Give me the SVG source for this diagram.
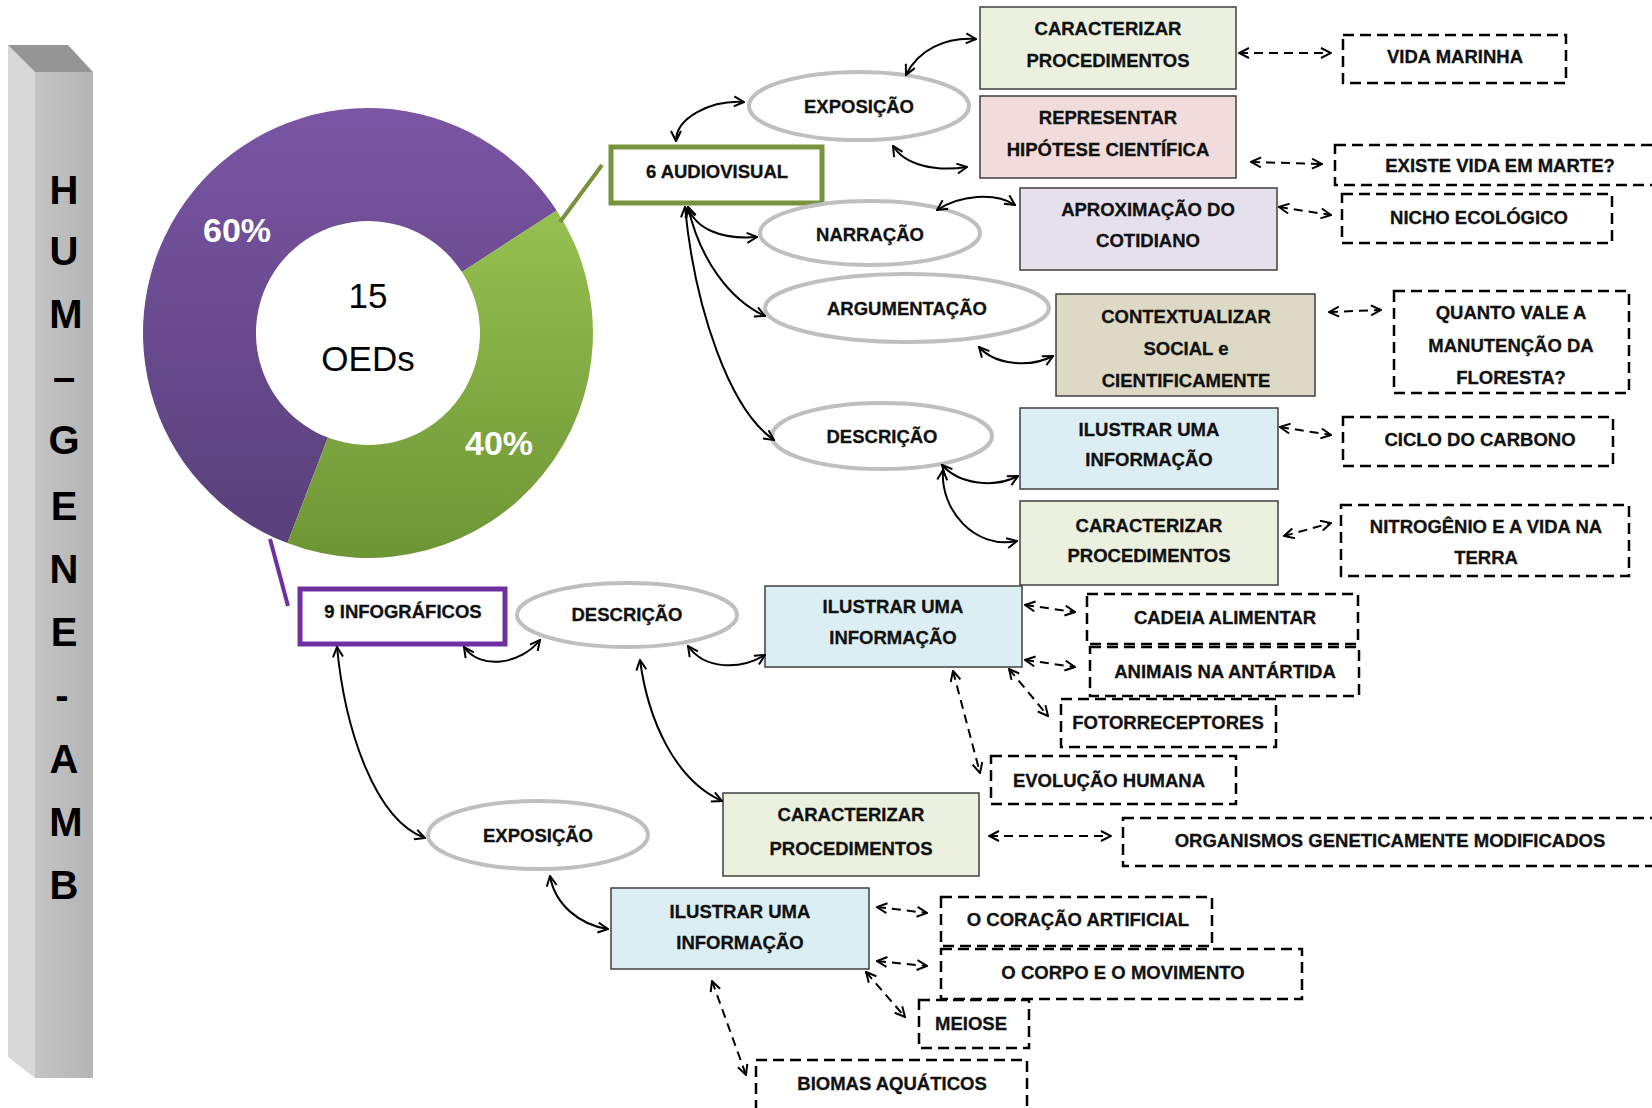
<svg xmlns="http://www.w3.org/2000/svg" width="1652" height="1108" viewBox="0 0 1652 1108">
<style>
  .t{font-family:"Liberation Sans",Arial,sans-serif;font-weight:bold;font-size:18.5px;fill:#111;stroke:#111;stroke-width:0.3;text-anchor:middle;dominant-baseline:central}
  .ell{fill:#fff;stroke:#BFBFBF;stroke-width:4}
  .box{stroke:#3F3F3F;stroke-width:1.5}
  .dbox{fill:#fff;stroke:#000;stroke-width:2.5;stroke-dasharray:11 6}
  .c{fill:none;stroke:#000;stroke-width:2;marker-start:url(#ah);marker-end:url(#ah)}
  .d{fill:none;stroke:#000;stroke-width:2;stroke-dasharray:9 6;marker-start:url(#ah);marker-end:url(#ah)}
  .pl{font-family:"Liberation Sans",Arial,sans-serif;font-weight:bold;font-size:40px;fill:#000;text-anchor:middle;dominant-baseline:central}
</style>
<defs>
  <marker id="ah" viewBox="0 0 12 12" refX="11" refY="6" markerWidth="12" markerHeight="12" markerUnits="userSpaceOnUse" orient="auto-start-reverse">
    <path d="M1,1 L11,6 L1,11" fill="none" stroke="#000" stroke-width="2"/>
  </marker>
  <linearGradient id="gp" x1="0" y1="0" x2="0" y2="1">
    <stop offset="0" stop-color="#7B55A3"/>
    <stop offset="1" stop-color="#58407A"/>
  </linearGradient>
  <linearGradient id="gg" x1="0" y1="0" x2="0" y2="1">
    <stop offset="0" stop-color="#96C050"/>
    <stop offset="1" stop-color="#6E9535"/>
  </linearGradient>
  <linearGradient id="gf" x1="0" y1="0" x2="1" y2="0">
    <stop offset="0" stop-color="#C4C4C4"/>
    <stop offset="1" stop-color="#B5B5B5"/>
  </linearGradient>
</defs>
<rect width="1652" height="1108" fill="#fff"/>

<g id="pillar">
  <polygon points="8,45 35,72 35,1078 8,1057" fill="#D8D8D8"/>
  <polygon points="8,45 68,45 93,72 35,72" fill="#959595"/>
  <rect x="35" y="72" width="58" height="1006" fill="url(#gf)"/>
  <text class="pl" x="64" y="190">H</text>
  <text class="pl" x="64" y="251">U</text>
  <text class="pl" x="66" y="314">M</text>
  <text class="pl" x="64" y="377">–</text>
  <text class="pl" x="64" y="440">G</text>
  <text class="pl" x="64" y="506">E</text>
  <text class="pl" x="64" y="569">N</text>
  <text class="pl" x="64" y="632">E</text>
  <text class="pl" x="62" y="695">-</text>
  <text class="pl" x="64" y="759">A</text>
  <text class="pl" x="66" y="822">M</text>
  <text class="pl" x="64" y="885">B</text>
</g>

<g id="donut">
  <path d="M287.4,543.1 A225,225 0 1 1 556.7,210.5 L461.9,272 A112,112 0 1 0 327.9,437.6 Z" fill="url(#gp)"/>
  <path d="M556.7,210.5 A225,225 0 0 1 287.4,543.1 L327.9,437.6 A112,112 0 0 0 461.9,272 Z" fill="url(#gg)"/>
  <text x="237" y="230" font-family="Liberation Sans,Arial,sans-serif" font-weight="bold" font-size="34" fill="#fff" text-anchor="middle" dominant-baseline="central">60%</text>
  <text x="499" y="443" font-family="Liberation Sans,Arial,sans-serif" font-weight="bold" font-size="34" fill="#fff" text-anchor="middle" dominant-baseline="central">40%</text>
  <text x="368" y="295" font-family="Liberation Sans,Arial,sans-serif" font-size="35" fill="#000" text-anchor="middle" dominant-baseline="central">15</text>
  <text x="368" y="358" font-family="Liberation Sans,Arial,sans-serif" font-size="35" fill="#000" text-anchor="middle" dominant-baseline="central">OEDs</text>
  <line x1="560" y1="222" x2="602" y2="165" stroke="#77933C" stroke-width="4"/>
  <line x1="270" y1="539" x2="288" y2="606" stroke="#7030A0" stroke-width="4"/>
</g>

<g id="n-audiovisual">
  <rect x="611" y="147" width="211" height="56" fill="#fff" stroke="#77933C" stroke-width="5"/>
  <text class="t" x="717" y="171">6 AUDIOVISUAL</text>
</g>
<g id="n-infograficos">
  <rect x="300" y="589" width="205" height="55" fill="#fff" stroke="#7030A0" stroke-width="5"/>
  <text class="t" x="403" y="611">9 INFOGRÁFICOS</text>
</g>

<g id="e-exposicao1"><ellipse class="ell" cx="859" cy="106" rx="110" ry="34"/><text class="t" x="859" y="106">EXPOSIÇÃO</text></g>
<g id="e-narracao"><ellipse class="ell" cx="870" cy="233" rx="110" ry="32"/><text class="t" x="870" y="234">NARRAÇÃO</text></g>
<g id="e-argumentacao"><ellipse class="ell" cx="907" cy="308" rx="142" ry="34"/><text class="t" x="907" y="308">ARGUMENTAÇÃO</text></g>
<g id="e-descricao1"><ellipse class="ell" cx="882" cy="436" rx="110" ry="33"/><text class="t" x="882" y="436">DESCRIÇÃO</text></g>
<g id="e-descricao2"><ellipse class="ell" cx="627" cy="615" rx="110" ry="32"/><text class="t" x="627" y="614">DESCRIÇÃO</text></g>
<g id="e-exposicao2"><ellipse class="ell" cx="538" cy="835" rx="110" ry="34"/><text class="t" x="538" y="835">EXPOSIÇÃO</text></g>

<g id="b-caract1"><rect class="box" x="980" y="7" width="256" height="82" fill="#EBF1DE"/><text class="t" x="1108" y="28">CARACTERIZAR</text><text class="t" x="1108" y="60">PROCEDIMENTOS</text></g>
<g id="b-represent"><rect class="box" x="980" y="96" width="256" height="82" fill="#F2DCDB"/><text class="t" x="1108" y="117">REPRESENTAR</text><text class="t" x="1108" y="149">HIPÓTESE CIENTÍFICA</text></g>
<g id="b-aprox"><rect class="box" x="1020" y="188" width="257" height="82" fill="#E5E0EC"/><text class="t" x="1148" y="209">APROXIMAÇÃO DO</text><text class="t" x="1148" y="240">COTIDIANO</text></g>
<g id="b-context"><rect class="box" x="1056" y="294" width="259" height="102" fill="#DDD9C4"/><text class="t" x="1186" y="316">CONTEXTUALIZAR</text><text class="t" x="1186" y="348">SOCIAL e</text><text class="t" x="1186" y="380">CIENTIFICAMENTE</text></g>
<g id="b-ilustrar1"><rect class="box" x="1020" y="408" width="258" height="81" fill="#DBEEF4"/><text class="t" x="1149" y="429">ILUSTRAR UMA</text><text class="t" x="1149" y="459">INFORMAÇÃO</text></g>
<g id="b-caract2"><rect class="box" x="1020" y="501" width="258" height="84" fill="#EBF1DE"/><text class="t" x="1149" y="525">CARACTERIZAR</text><text class="t" x="1149" y="555">PROCEDIMENTOS</text></g>
<g id="b-ilustrar2"><rect class="box" x="765" y="586" width="257" height="81" fill="#DBEEF4"/><text class="t" x="893" y="606">ILUSTRAR UMA</text><text class="t" x="893" y="637">INFORMAÇÃO</text></g>
<g id="b-caract3"><rect class="box" x="723" y="793" width="256" height="83" fill="#EBF1DE"/><text class="t" x="851" y="814">CARACTERIZAR</text><text class="t" x="851" y="848">PROCEDIMENTOS</text></g>
<g id="b-ilustrar3"><rect class="box" x="611" y="888" width="258" height="81" fill="#DBEEF4"/><text class="t" x="740" y="911">ILUSTRAR UMA</text><text class="t" x="740" y="942">INFORMAÇÃO</text></g>

<g id="x-vida-marinha"><rect class="dbox" x="1343" y="35" width="223" height="48"/><text class="t" x="1455" y="56">VIDA MARINHA</text></g>
<g id="x-marte"><rect class="dbox" x="1335" y="145" width="330" height="40"/><text class="t" x="1500" y="165">EXISTE VIDA EM MARTE?</text></g>
<g id="x-nicho"><rect class="dbox" x="1342" y="194" width="270" height="49"/><text class="t" x="1479" y="217">NICHO ECOLÓGICO</text></g>
<g id="x-floresta"><rect class="dbox" x="1394" y="291" width="235" height="102"/><text class="t" x="1511" y="312">QUANTO VALE A</text><text class="t" x="1511" y="345">MANUTENÇÃO DA</text><text class="t" x="1511" y="377">FLORESTA?</text></g>
<g id="x-carbono"><rect class="dbox" x="1343" y="417" width="270" height="49"/><text class="t" x="1480" y="439">CICLO DO CARBONO</text></g>
<g id="x-nitrogenio"><rect class="dbox" x="1341" y="505" width="288" height="71"/><text class="t" x="1486" y="526">NITROGÊNIO E A VIDA  NA</text><text class="t" x="1486" y="557">TERRA</text></g>
<g id="x-cadeia"><rect class="dbox" x="1087" y="594" width="271" height="50"/><text class="t" x="1225" y="617">CADEIA ALIMENTAR</text></g>
<g id="x-antartida"><rect class="dbox" x="1090" y="647" width="269" height="49"/><text class="t" x="1225" y="671">ANIMAIS NA ANTÁRTIDA</text></g>
<g id="x-fotorreceptores"><rect class="dbox" x="1061" y="699" width="215" height="48"/><text class="t" x="1168" y="722">FOTORRECEPTORES</text></g>
<g id="x-evolucao"><rect class="dbox" x="991" y="756" width="245" height="48"/><text class="t" x="1109" y="780">EVOLUÇÃO HUMANA</text></g>
<g id="x-ogm"><rect class="dbox" x="1123" y="818" width="540" height="48"/><text class="t" x="1390" y="840">ORGANISMOS GENETICAMENTE MODIFICADOS</text></g>
<g id="x-coracao"><rect class="dbox" x="941" y="897" width="271" height="49"/><text class="t" x="1078" y="919">O CORAÇÃO ARTIFICIAL</text></g>
<g id="x-corpo"><rect class="dbox" x="941" y="949" width="361" height="50"/><text class="t" x="1123" y="972">O CORPO E O MOVIMENTO</text></g>
<g id="x-meiose"><rect class="dbox" x="919" y="1000" width="110" height="48"/><text class="t" x="971" y="1023">MEIOSE</text></g>
<g id="x-biomas"><rect class="dbox" x="756" y="1060" width="271" height="52"/><text class="t" x="892" y="1083">BIOMAS AQUÁTICOS</text></g>

<g id="connectors">
  <path class="c" d="M676,141 C676,118 710,100 744,102"/>
  <path class="c" d="M906,75 C918,50 945,37 976,39"/>
  <path class="c" d="M893,146 C905,165 935,172 967,167"/>
  <path class="c" d="M688,207 C695,228 720,240 757,237"/>
  <path class="c" d="M937,210 C960,195 995,192 1015,205"/>
  <path class="c" d="M688,207 C700,260 730,300 765,316"/>
  <path class="c" d="M979,347 C995,365 1030,368 1053,356"/>
  <path class="c" d="M685,207 C695,310 730,410 774,440"/>
  <path class="c" d="M942,465 C960,485 995,488 1018,476"/>
  <path class="c" d="M943,470 C940,510 975,550 1017,541"/>
  <path class="c" d="M464,647 C480,670 520,665 540,640"/>
  <path class="c" d="M688,646 C705,670 740,670 765,655"/>
  <path class="c" d="M640,660 C648,720 675,780 722,801"/>
  <path class="c" d="M337,647 C345,730 375,820 425,838"/>
  <path class="c" d="M550,876 C555,905 580,925 608,929"/>

  <path class="d" d="M1239,53 L1331,53"/>
  <path class="d" d="M1251,162 L1322,164"/>
  <path class="d" d="M1279,207 L1331,215"/>
  <path class="d" d="M1329,312 L1381,310"/>
  <path class="d" d="M1280,427 L1331,435"/>
  <path class="d" d="M1284,536 L1331,523"/>
  <path class="d" d="M1025,605 L1075,612"/>
  <path class="d" d="M1025,660 L1075,667"/>
  <path class="d" d="M1009,669 L1048,716"/>
  <path class="d" d="M953,671 L980,773"/>
  <path class="d" d="M989,836 L1111,836"/>
  <path class="d" d="M877,907 L927,913"/>
  <path class="d" d="M877,961 L927,966"/>
  <path class="d" d="M866,972 L905,1017"/>
  <path class="d" d="M712,981 L746,1075"/>
</g>
</svg>
